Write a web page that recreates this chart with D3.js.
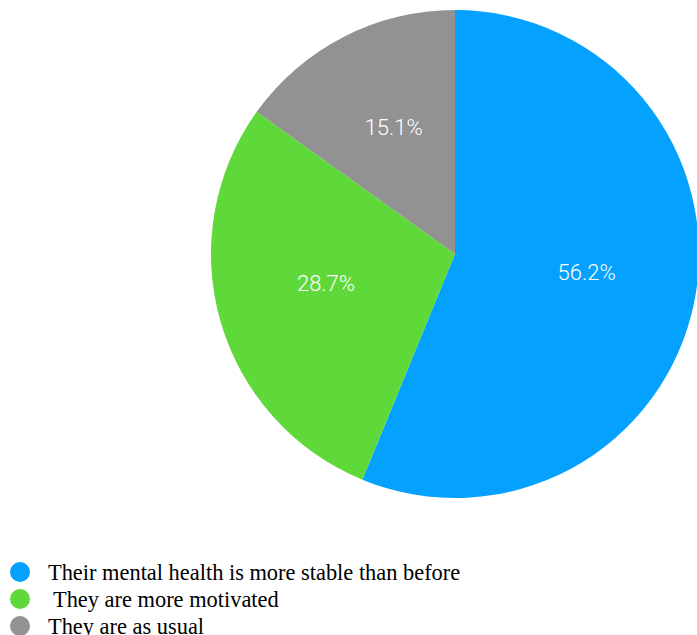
<!DOCTYPE html>
<html>
<head>
<meta charset="utf-8">
<script src="https://cdn.jsdelivr.net/npm/d3@7"></script>
<style>
  body { margin: 0; background: #fff; }
  svg { display: block; }
</style>
</head>
<body>
<div id="chart"></div>
<script>
// données du graphique
const categories = [
  "Their mental health is more stable than before",
  "They are more motivated",
  "They are as usual"
];
const values = [56.2, 28.7, 15.1];
const colors = ["#05a1fe", "#5fd93a", "#929292"];

const width = 697, height = 635;
const cx = 455, cy = 254, radius = 244;

const svg = d3.select("#chart").append("svg")
  .attr("width", width)
  .attr("height", height);

const data = categories.map((c, i) => ({ name: c, value: values[i], color: colors[i] }));

// pie dans l'ordre, sens horaire depuis midi
const pie = d3.pie().value(d => d.value).sort(null);
const arc = d3.arc().innerRadius(0).outerRadius(radius);
const labelArc = d3.arc().innerRadius(radius * 0.55).outerRadius(radius * 0.55);

const g = svg.append("g").attr("transform", `translate(${cx},${cy})`);

const arcs = pie(data);

g.selectAll("path")
  .data(arcs)
  .enter()
  .append("path")
  .attr("d", arc)
  .attr("fill", d => d.data.color);

g.selectAll("text")
  .data(arcs)
  .enter()
  .append("text")
  .attr("transform", d => `translate(${labelArc.centroid(d)})`)
  .attr("text-anchor", "middle")
  .attr("dy", "0em")
  .style("font-family", "Roboto, 'Open Sans', sans-serif")
  .style("font-weight", 300)
  .style("font-size", "22px")
  .style("fill", "#fff")
  .text(d => d.data.value.toFixed(1) + "%");

// légende
const legend = svg.append("g").attr("transform", "translate(0,572)");

const rows = legend.selectAll("g")
  .data(data)
  .enter()
  .append("g")
  .attr("transform", (d, i) => `translate(0,${i * 27})`);

rows.append("circle")
  .attr("cx", 20)
  .attr("cy", 0)
  .attr("r", 10)
  .attr("fill", d => d.color);

rows.append("text")
  .attr("x", (d, i) => i === 1 ? 53 : 48)
  .attr("y", 0)
  .attr("dy", "0.35em")
  .style("font-family", "'Liberation Serif', 'Times New Roman', serif")
  .style("font-size", "22.4px")
  .style("fill", "#000")
  .text(d => d.name);
</script>
</body>
</html>
